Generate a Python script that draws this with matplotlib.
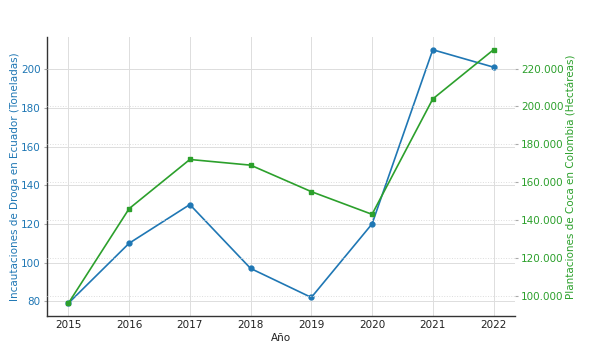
import matplotlib
matplotlib.use("Agg")
import matplotlib.pyplot as plt
from matplotlib.ticker import FuncFormatter

years = [2015, 2016, 2017, 2018, 2019, 2020, 2021, 2022]
incautaciones = [79, 110, 130, 97, 82, 120, 210, 201]
plantaciones = [96000, 146000, 172000, 169000, 155000, 143000, 204000, 230000]

blue = '#1f77b4'
green = '#2ca02c'
fs = 7.5

fig = plt.figure(figsize=(5.89, 3.53), dpi=100)
ax = fig.add_axes([0.08, 0.105, 0.794, 0.79])
ax.plot(years, incautaciones, color=blue, marker='o', markersize=3.5, linewidth=1.2)
ax.set_xlabel('Año', fontsize=fs, color='#222222', labelpad=2)
ax.set_ylabel('Incautaciones de Droga en Ecuador (Toneladas)', fontsize=fs, color=blue, labelpad=1)
ax.tick_params(axis='y', labelcolor=blue, labelsize=fs, length=2.5, pad=2, color='#aaaaaa')
ax.tick_params(axis='x', labelsize=fs, length=0, pad=3, labelcolor='#222222')
ax.set_xticks(years)
ax.grid(True, color='#dddddd', linewidth=0.7, linestyle='-')
for s in ['top', 'right']:
    ax.spines[s].set_visible(False)
for s in ['left', 'bottom']:
    ax.spines[s].set_color('#333333')
    ax.spines[s].set_linewidth(1.0)

ax2 = ax.twinx()
ax2.plot(years, plantaciones, color=green, marker='s', markersize=3.5, linewidth=1.2)
ax2.set_ylabel('Plantaciones de Coca en Colombia (Hectáreas)', fontsize=fs, color=green, labelpad=2)
ax2.tick_params(axis='y', labelcolor=green, labelsize=fs, length=2.5, pad=2, color='#aaaaaa')
ax2.yaxis.set_major_formatter(FuncFormatter(lambda v, p: f'{int(v):,}'.replace(',', '.')))
ax2.grid(True, color='#dddddd', linewidth=0.7, linestyle=':')
for s in ['top', 'right', 'left', 'bottom']:
    ax2.spines[s].set_visible(False)

fig.savefig('out.png', dpi=100)
